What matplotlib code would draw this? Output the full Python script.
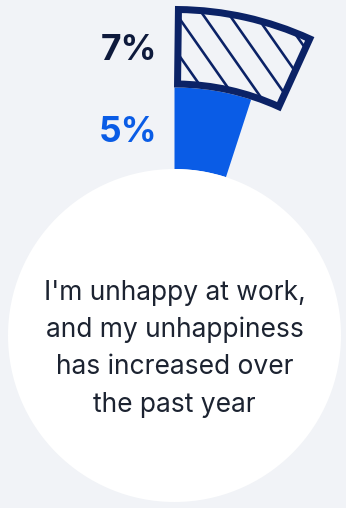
import numpy as np
import matplotlib.pyplot as plt
from matplotlib.patches import Wedge, Circle

# share of respondents (percent)
shares = [5, 7]
share_labels = ["5%", "7%"]
caption_lines = ["I'm unhappy at work,", "and my unhappiness",
                 "has increased over", "the past year"]

BG = "#f1f3f7"
BLUE = "#0a5ce6"
NAVY = "#0b2266"
LABEL_DARK = "#0e1a3c"
TEXT = "#1c2331"

plt.rcParams['font.family'] = ['Inter', 'DejaVu Sans']

fig = plt.figure(figsize=(3.46, 5.08), dpi=100, facecolor=BG)
ax = fig.add_axes([0, 0, 1, 1])
ax.set_xlim(-174.5, 171.5)
ax.set_ylim(-172.5, 335.5)
ax.set_aspect('equal')
ax.axis('off')

r_core = 166.5
r_blue = 248.0
r_outer = 329.5
border = 7.0

# white core circle
ax.add_patch(Circle((0, 0), r_core, facecolor="white", edgecolor="none", zorder=4))

# solid wedge, clockwise from 12 o'clock
a_blue = shares[0] / 100 * 360
ax.add_patch(Wedge((0, 0), r_blue, 90 - a_blue, 90, width=r_blue - r_core,
                   facecolor=BLUE, edgecolor="none", zorder=1))

# outlined, hatched wedge sitting outside the solid one
a_hatch = shares[1] / 100 * 360
r_mid = (r_blue + r_outer) / 2
inset = np.degrees(border / 2 / r_mid)
r_o = r_outer - border / 2
r_i = r_blue + border / 2
outline = Wedge((0, 0), r_o, 90 - a_hatch + inset, 90 - inset, width=r_o - r_i,
                facecolor="none", edgecolor=NAVY, linewidth=border * 72 / 100,
                joinstyle="miter", zorder=3)
ax.add_patch(outline)

clip = Wedge((0, 0), r_o, 90 - a_hatch + inset, 90 - inset, width=r_o - r_i,
             facecolor="none", edgecolor="none")
ax.add_patch(clip)
ang = np.radians(-55)
d = np.array([np.cos(ang), np.sin(ang)])
nrm = np.array([-d[1], d[0]])
anchor = np.array([7.2, 313.8])
for k in range(-8, 9):
    p = anchor + k * 21.5 * nrm
    seg = np.array([p - 200 * d, p + 200 * d])
    ln, = ax.plot(seg[:, 0], seg[:, 1], color=NAVY, lw=2.6 * 72 / 100,
                  solid_capstyle="butt", zorder=2)
    ln.set_clip_path(clip)

# value labels
ax.text(-17.0, 193.5, share_labels[0], color=BLUE, fontsize=25.5,
        fontweight="bold", ha="right", va="baseline")
ax.text(-17.0, 275.5, share_labels[1], color=LABEL_DARK, fontsize=25.5,
        fontweight="bold", ha="right", va="baseline")

# caption inside the circle
baselines = [35.5, -1.5, -38.5, -76.0]
for line, yb in zip(caption_lines, baselines):
    ax.text(0, yb, line, color=TEXT, fontsize=19, ha="center", va="baseline",
            zorder=5)

fig.savefig("out.png", dpi=100, facecolor=BG)
